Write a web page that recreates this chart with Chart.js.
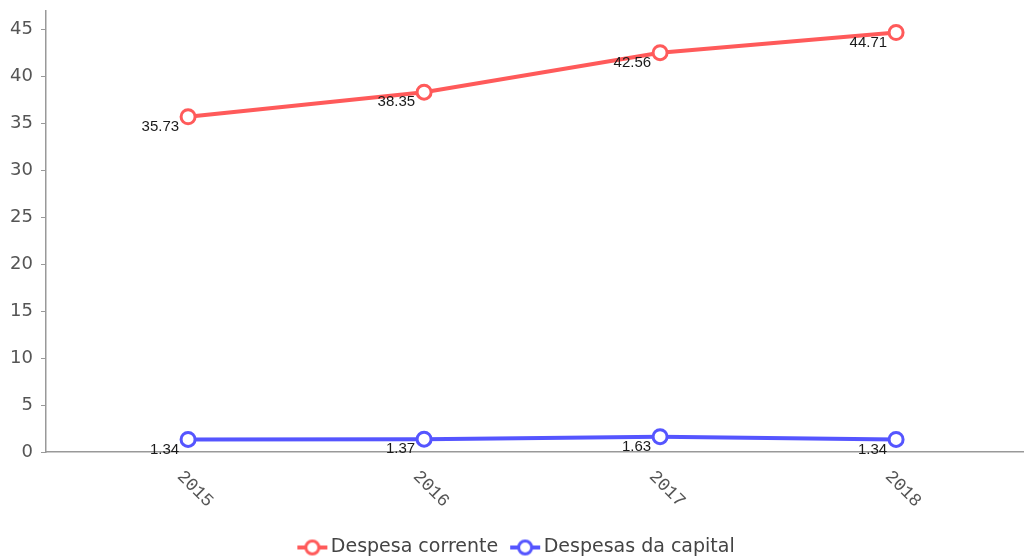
<!DOCTYPE html>
<html>
<head>
<meta charset="utf-8">
<script src="https://cdn.jsdelivr.net/npm/chart.js@4/dist/chart.umd.min.js"></script>
<style>
  html, body { margin: 0; padding: 0; background: #fff; overflow: hidden; }
  canvas { display: block; }
</style>
</head>
<body>
<canvas id="myChart" width="1024" height="560"></canvas>
<script>
// dados do gráfico
const anos = [2015, 2016, 2017, 2018];
const despesaCorrente = [35.73, 38.35, 42.56, 44.71];
const despesasCapital = [1.34, 1.37, 1.63, 1.34];
const yTicks = [0, 5, 10, 15, 20, 25, 30, 35, 40, 45];

const vermelho = '#ff5a5a';
const azul = '#5555ff';

// ícone da legenda: linha com círculo no meio (deslocado para a direita p/ encostar no texto)
function icone(cor) {
    let c = document.createElement('canvas');
    c.width = 46; c.height = 18;
    let g = c.getContext('2d');
    g.strokeStyle = cor;
    g.lineWidth = 4;
    g.beginPath(); g.moveTo(15, 9); g.lineTo(45, 9); g.stroke();
    g.fillStyle = '#fff';
    g.lineWidth = 3;
    g.beginPath(); g.arc(30, 9, 6.5, 0, Math.PI * 2); g.fill(); g.stroke();
    return c;
}
const icones = [icone(vermelho), icone(azul)];

// rótulos de valor ao lado de cada ponto
const rotulos = {
    id: 'rotulos',
    afterDatasetsDraw(chart) {
        let ctx = chart.ctx;
        ctx.save();
        ctx.font = '15px "Liberation Sans", Arial, sans-serif';
        ctx.fillStyle = '#1a1a1a';
        ctx.textAlign = 'right';
        ctx.textBaseline = 'middle';
        chart.data.datasets.forEach((ds, i) => {
            chart.getDatasetMeta(i).data.forEach((p, j) => {
                ctx.fillText(ds.data[j].y.toFixed(2), p.x - 9, p.y + 10);
            });
        });
        ctx.restore();
    }
};

// rótulos do eixo x inclinados para baixo + legenda um pouco mais abaixo
const eixoX = {
    id: 'eixoX',
    afterLayout(chart) {
        chart.legend.top += 7;
        chart.legend.bottom += 7;
    },
    afterDraw(chart) {
        let ctx = chart.ctx;
        let sx = chart.scales.x;
        ctx.save();
        ctx.font = '18px "Liberation Mono", "Courier New", monospace';
        ctx.fillStyle = '#555';
        ctx.textAlign = 'center';
        ctx.textBaseline = 'middle';
        anos.forEach(a => {
            ctx.save();
            ctx.translate(sx.getPixelForValue(a) + 7, chart.chartArea.bottom + 37);
            ctx.rotate(Math.PI / 4);
            ctx.fillText(String(a), 0, 0);
            ctx.restore();
        });
        ctx.restore();
    }
};

const config = {
    type: 'line',
    data: {
        datasets: [
            {
                label: 'Despesa corrente',
                data: anos.map((a, i) => ({ x: a, y: despesaCorrente[i] })),
                borderColor: vermelho,
                backgroundColor: '#fff',
                borderWidth: 4,
                pointRadius: 7,
                pointBorderWidth: 3,
                pointBackgroundColor: '#fff',
                pointBorderColor: vermelho,
                clip: false,
            },
            {
                label: 'Despesas da capital',
                data: anos.map((a, i) => ({ x: a, y: despesasCapital[i] })),
                borderColor: azul,
                backgroundColor: '#fff',
                borderWidth: 4,
                pointRadius: 7,
                pointBorderWidth: 3,
                pointBackgroundColor: '#fff',
                pointBorderColor: azul,
                clip: false,
            }
        ]
    },
    options: {
        responsive: false,
        animation: false,
        layout: { autoPadding: false, padding: { top: 11, right: 0, left: 0, bottom: 0 } },
        scales: {
            x: {
                type: 'linear',
                min: 2014.398,
                max: 2018.542,
                afterBuildTicks: s => { s.ticks = anos.map(v => ({ value: v })); },
                afterFit: s => { s.height = 75; s.paddingLeft = 0; s.paddingRight = 0; },
                ticks: { display: false },
                grid: { display: false },
                border: { color: '#999', width: 1.5 }
            },
            y: {
                min: 0,
                max: 47,
                afterBuildTicks: s => { s.ticks = yTicks.map(v => ({ value: v })); },
                afterFit: s => { s.width = 46; s.paddingTop = 0; s.paddingBottom = 0; },
                ticks: {
                    color: '#555',
                    padding: 8,
                    font: { family: '"DejaVu Sans", Verdana, sans-serif', size: 18 }
                },
                grid: { drawOnChartArea: false, tickLength: 5, color: '#999' },
                border: { color: '#999', width: 1.5 }
            }
        },
        plugins: {
            tooltip: { enabled: false },
            legend: {
                position: 'bottom',
                labels: {
                    usePointStyle: true,
                    pointStyleWidth: 32,
                    padding: 4,
                    color: '#444',
                    font: { family: '"DejaVu Sans", Verdana, sans-serif', size: 19 },
                    generateLabels: chart =>
                        Chart.defaults.plugins.legend.labels.generateLabels(chart)
                            .map((l, i) => ({ ...l, pointStyle: icones[i] }))
                }
            }
        }
    },
    plugins: [rotulos, eixoX]
};

let myChart = new Chart(document.getElementById('myChart'), config);
</script>
</body>
</html>
